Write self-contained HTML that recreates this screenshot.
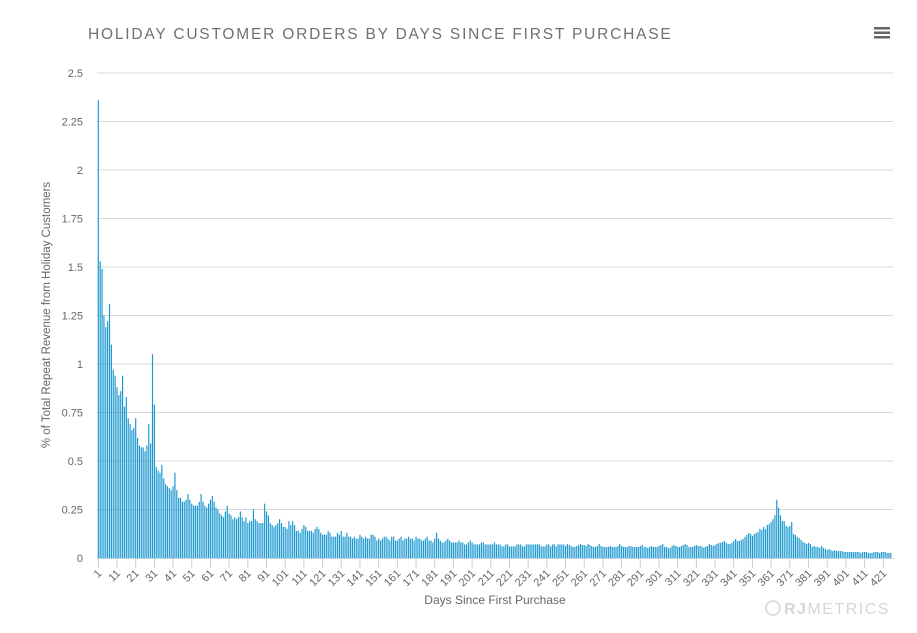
<!DOCTYPE html>
<html><head><meta charset="utf-8"><style>
body{margin:0;background:#fff;font-family:"Liberation Sans",sans-serif}
svg{display:block}
</style></head><body>
<svg id="chart" width="917" height="633">
<text x="88" y="39" font-size="15.5" fill="#707070" letter-spacing="1.8">HOLIDAY CUSTOMER ORDERS BY DAYS SINCE FIRST PURCHASE</text>
<g fill="#666">
<rect x="874" y="27" width="16" height="2.5"/><rect x="874" y="31.5" width="16" height="2.5"/><rect x="874" y="36" width="16" height="2.5"/>
</g>
<g id="grid"></g><g id="bars"></g><g id="xaxis"></g>
<text transform="translate(50,315) rotate(-90)" text-anchor="middle" font-size="11.5" fill="#666">% of Total Repeat Revenue from Holiday Customers</text>
<text x="495" y="604" text-anchor="middle" font-size="12" fill="#666">Days Since First Purchase</text>
<g>
<circle cx="773" cy="608" r="7" fill="none" stroke="#ddd" stroke-width="2"/>
<text x="784" y="614" font-size="16" fill="#d6d6d6" letter-spacing="1.5" font-weight="bold">RJ<tspan font-weight="normal">METRICS</tspan></text>
</g>
</svg>
<script>
const yTicks=[0,0.25,0.5,0.75,1,1.25,1.5,1.75,2,2.25,2.5];
const yTickLabels=["0","0.25","0.5","0.75","1","1.25","1.5","1.75","2","2.25","2.5"];
const xTickDays=[1,11,21,31,41,51,61,71,81,91,101,111,121,131,141,151,161,171,181,191,201,211,221,231,241,251,261,271,281,291,301,311,321,331,341,351,361,371,381,391,401,411,421];
const values=[
2.36,1.53,1.49,1.25,1.19,1.22,1.31,1.10,0.97,0.94,
0.88,0.84,0.86,0.94,0.78,0.83,0.72,0.69,0.66,0.67,
0.72,0.62,0.58,0.57,0.57,0.55,0.58,0.69,0.59,1.05,
0.79,0.47,0.45,0.44,0.48,0.41,0.38,0.37,0.36,0.35,
0.37,0.44,0.35,0.31,0.31,0.29,0.29,0.30,0.33,0.30,
0.28,0.27,0.27,0.27,0.29,0.33,0.29,0.27,0.26,0.28,
0.30,0.32,0.29,0.26,0.25,0.23,0.22,0.21,0.24,0.27,
0.23,0.22,0.20,0.21,0.20,0.21,0.24,0.21,0.19,0.21,
0.18,0.19,0.19,0.25,
.20,.19,.18,.18,.18,.28,.24,.22,.18,.17,
.16,.17,.18,.20,.18,.16,.16,.15,.19,.17,
.19,.17,.14,.14,.13,.15,.17,.16,.14,.14,
.14,.13,.15,.16,.15,.13,.12,.12,.12,.14,
.13,.11,.11,.11,.13,.12,.14,.11,.11,.13,
.11,.11,.10,.11,.10,.10,.12,.11,.10,.11,
.10,.10,.12,.12,.11,.09,.10,.09,.10,.11,
.11,.10,.09,.11,.11,.09,.09,.10,.11,.09,
.10,.10,.11,.10,.10,.09,
.11,.10,.10,.09,.09,.10,.11,.09,.09,.08,
.10,.13,.10,.09,.08,.08,.09,.10,.09,.08,
.08,.08,.08,.09,.08,.08,.07,.07,.08,.09,
.08,.07,.07,.07,.07,.08,.08,.07,.07,.07,
.07,.07,.08,.07,.07,.07,.06,.06,.07,.07,
.06,.06,.06,.06,.07,.07,.07,.06,.06,.07,
.07,.07,.07,.07,.07,.07,.07,.06,.06,.06,
.07,.07,.06,.07,.07,.06,.07,.07,.07,.07,
.062,.072,.067,.062,.057,.057,.062,.067,.072,.067,
.067,.062,.072,.067,.062,.057,.057,.062,.072,.062,
.057,.057,.057,.057,.062,.057,.057,.057,.062,.072,
.062,.057,.057,.057,.062,.062,.057,.057,.057,.057,
.062,.067,.057,.057,.052,.057,.062,.057,.057,.057,
.062,.067,.072,.057,.057,.052,.052,.062,.067,.062,
.057,.057,.062,.067,.072,.067,.057,.057,.057,.062,
.067,.062,
.062,.059,.053,.059,.062,.072,.067,.062,.067,.072,
.078,.078,.083,.088,.078,.072,.072,.078,.088,.098,.088,.088,
.093,.098,.109,.119,.129,.124,.114,.124,.129,.134,
.150,.145,.160,.150,.170,.176,.186,.200,.220,.300,
.260,.220,.190,.190,.165,.160,.165,.186,.124,.119,
.109,.103,.093,.083,.078,.072,.078,.072,.057,.062,
.057,.057,.052,.062,.052,.047,.041,.047,.041,.036,
.041,.036,.036,.036,.036,.031,.031,.031,.031,.031,
.031,.031,.031,.031,.026,.031,.031,.031,.026,.026,
.026,.031,.031,.031,.026,.031,.031,.031,.026,.026,.026
];
const NS="http://www.w3.org/2000/svg";
const X0=98.3, DX=1.869, Y0=558, YS=194;
function xs(d){return X0+(d-1)*DX;}
function ys(v){return Y0-v*YS;}
const grid=document.getElementById('grid');
yTicks.forEach((t,i)=>{
  if(i>0){const l=document.createElementNS(NS,'line');
  l.setAttribute('x1',97);l.setAttribute('x2',893);l.setAttribute('y1',ys(t));l.setAttribute('y2',ys(t));
  l.setAttribute('stroke','#d8d8d8');l.setAttribute('stroke-width','1');
  
  
  grid.appendChild(l);}
  const tx=document.createElementNS(NS,'text');
  tx.setAttribute('x',83);tx.setAttribute('y',ys(t)+4);tx.setAttribute('text-anchor','end');
  tx.setAttribute('font-size','11');tx.setAttribute('fill','#666');tx.textContent=yTickLabels[i];
  
  
  grid.appendChild(tx);
});
const bars=document.getElementById('bars');
values.forEach((v,i)=>{
  const r=document.createElementNS(NS,'rect');
  const d=i+1;
  r.setAttribute('x',xs(d)-0.6);r.setAttribute('y',ys(v));r.setAttribute('width',1.2);r.setAttribute('height',Y0-ys(v));
  r.setAttribute('fill','#1f9ad0');
  
  
  bars.appendChild(r);
});
const xa=document.getElementById('xaxis');
const ax=document.createElementNS(NS,'line');
ax.setAttribute('x1',97);ax.setAttribute('x2',893);ax.setAttribute('y1',558.5);ax.setAttribute('y2',558.5);ax.setAttribute('stroke','#c0d0e0');


xa.appendChild(ax);
xTickDays.forEach(d=>{
  const t=document.createElementNS(NS,'line');
  t.setAttribute('x1',xs(d));t.setAttribute('x2',xs(d));t.setAttribute('y1',558);t.setAttribute('y2',568);t.setAttribute('stroke','#c0d0e0');
  
  
  xa.appendChild(t);
  const tx=document.createElementNS(NS,'text');
  tx.setAttribute('transform','translate('+(xs(d)+4)+',574) rotate(-45)');
  tx.setAttribute('text-anchor','end');tx.setAttribute('font-size','11');tx.setAttribute('fill','#666');
  tx.textContent=String(d);
  
  
  xa.appendChild(tx);
});
</script>
</body></html>
